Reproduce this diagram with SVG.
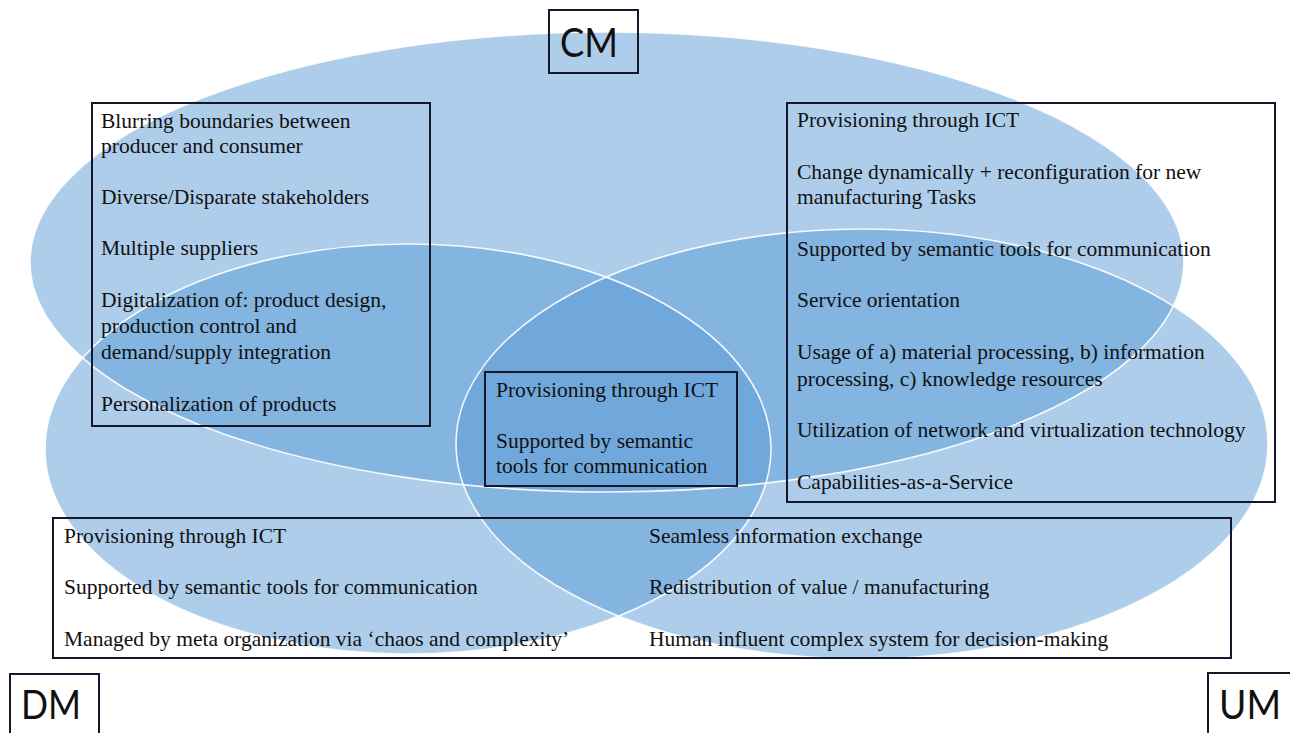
<svg xmlns="http://www.w3.org/2000/svg" width="1290" height="733" viewBox="0 0 1290 733">
  <style>
    .set { fill: #5B9BD5; fill-opacity: 0.5; stroke: none; }
    .rim { fill: none; stroke: #ffffff; stroke-width: 1.6; stroke-opacity: 0.9; }
    .box { fill: none; stroke: #14182a; stroke-width: 2; }
    .txt { font-family: "Liberation Serif", "Times New Roman", serif; font-size: 21.5px; fill: #111111; }
    .lbl { font-family: "Lato", "Liberation Sans", Arial, sans-serif; font-size: 40px; fill: #111111; }
  </style>
  <rect x="0" y="0" width="1290" height="733" fill="#ffffff"/>

  <!-- overlapping sets -->
  <g id="sets">
    <ellipse class="set" cx="607" cy="262" rx="577" ry="230"/>
    <ellipse class="set" cx="408" cy="449" rx="363" ry="205"/>
    <ellipse class="set" cx="862" cy="444" rx="406" ry="215"/>
    <ellipse class="rim" cx="607" cy="262" rx="577" ry="230"/>
    <ellipse class="rim" cx="408" cy="449" rx="363" ry="205"/>
    <ellipse class="rim" cx="862" cy="444" rx="406" ry="215"/>
  </g>

  <!-- set labels -->
  <g id="label-cm">
    <rect class="box" x="549" y="10" width="89" height="63"/>
    <text class="lbl" x="560" y="57" textLength="58" lengthAdjust="spacingAndGlyphs">CM</text>
  </g>
  <g id="label-dm">
    <rect class="box" x="10" y="674" width="89" height="70"/>
    <text class="lbl" x="21" y="719" textLength="60" lengthAdjust="spacingAndGlyphs">DM</text>
  </g>
  <g id="label-um">
    <rect class="box" x="1208" y="673" width="90" height="70"/>
    <text class="lbl" x="1219" y="719" textLength="62" lengthAdjust="spacingAndGlyphs">UM</text>
  </g>

  <!-- CM only / CM-DM characteristics -->
  <g id="box-top-left">
    <rect class="box" x="92" y="103" width="338" height="323"/>
    <text class="txt" x="101" y="128">Blurring boundaries between</text>
    <text class="txt" x="101" y="153">producer and consumer</text>
    <text class="txt" x="101" y="204">Diverse/Disparate stakeholders</text>
    <text class="txt" x="101" y="255">Multiple suppliers</text>
    <text class="txt" x="101" y="307">Digitalization of: product design,</text>
    <text class="txt" x="101" y="333">production control and</text>
    <text class="txt" x="101" y="359">demand/supply integration</text>
    <text class="txt" x="101" y="411">Personalization of products</text>
  </g>

  <!-- CM-UM characteristics -->
  <g id="box-top-right">
    <rect class="box" x="787" y="103" width="488" height="399"/>
    <text class="txt" x="797" y="127">Provisioning through ICT</text>
    <text class="txt" x="797" y="179">Change dynamically + reconfiguration for new</text>
    <text class="txt" x="797" y="204">manufacturing Tasks</text>
    <text class="txt" x="797" y="256">Supported by semantic tools for communication</text>
    <text class="txt" x="797" y="307">Service orientation</text>
    <text class="txt" x="797" y="359">Usage of a) material processing, b) information</text>
    <text class="txt" x="797" y="386">processing, c) knowledge resources</text>
    <text class="txt" x="797" y="437">Utilization of network and virtualization technology</text>
    <text class="txt" x="797" y="489">Capabilities-as-a-Service</text>
  </g>

  <!-- shared core -->
  <g id="box-center">
    <rect class="box" x="485" y="372" width="252" height="114"/>
    <text class="txt" x="496" y="397">Provisioning through ICT</text>
    <text class="txt" x="496" y="448">Supported by semantic</text>
    <text class="txt" x="496" y="473">tools for communication</text>
  </g>

  <!-- DM / UM characteristics -->
  <g id="box-bottom">
    <rect class="box" x="53" y="518" width="1178" height="140"/>
    <text class="txt" x="64" y="543">Provisioning through ICT</text>
    <text class="txt" x="64" y="594">Supported by semantic tools for communication</text>
    <text class="txt" x="64" y="646">Managed by meta organization via ‘chaos and complexity’</text>
    <text class="txt" x="649" y="543">Seamless information exchange</text>
    <text class="txt" x="649" y="594">Redistribution of value / manufacturing</text>
    <text class="txt" x="649" y="646">Human influent complex system for decision-making</text>
  </g>
</svg>
